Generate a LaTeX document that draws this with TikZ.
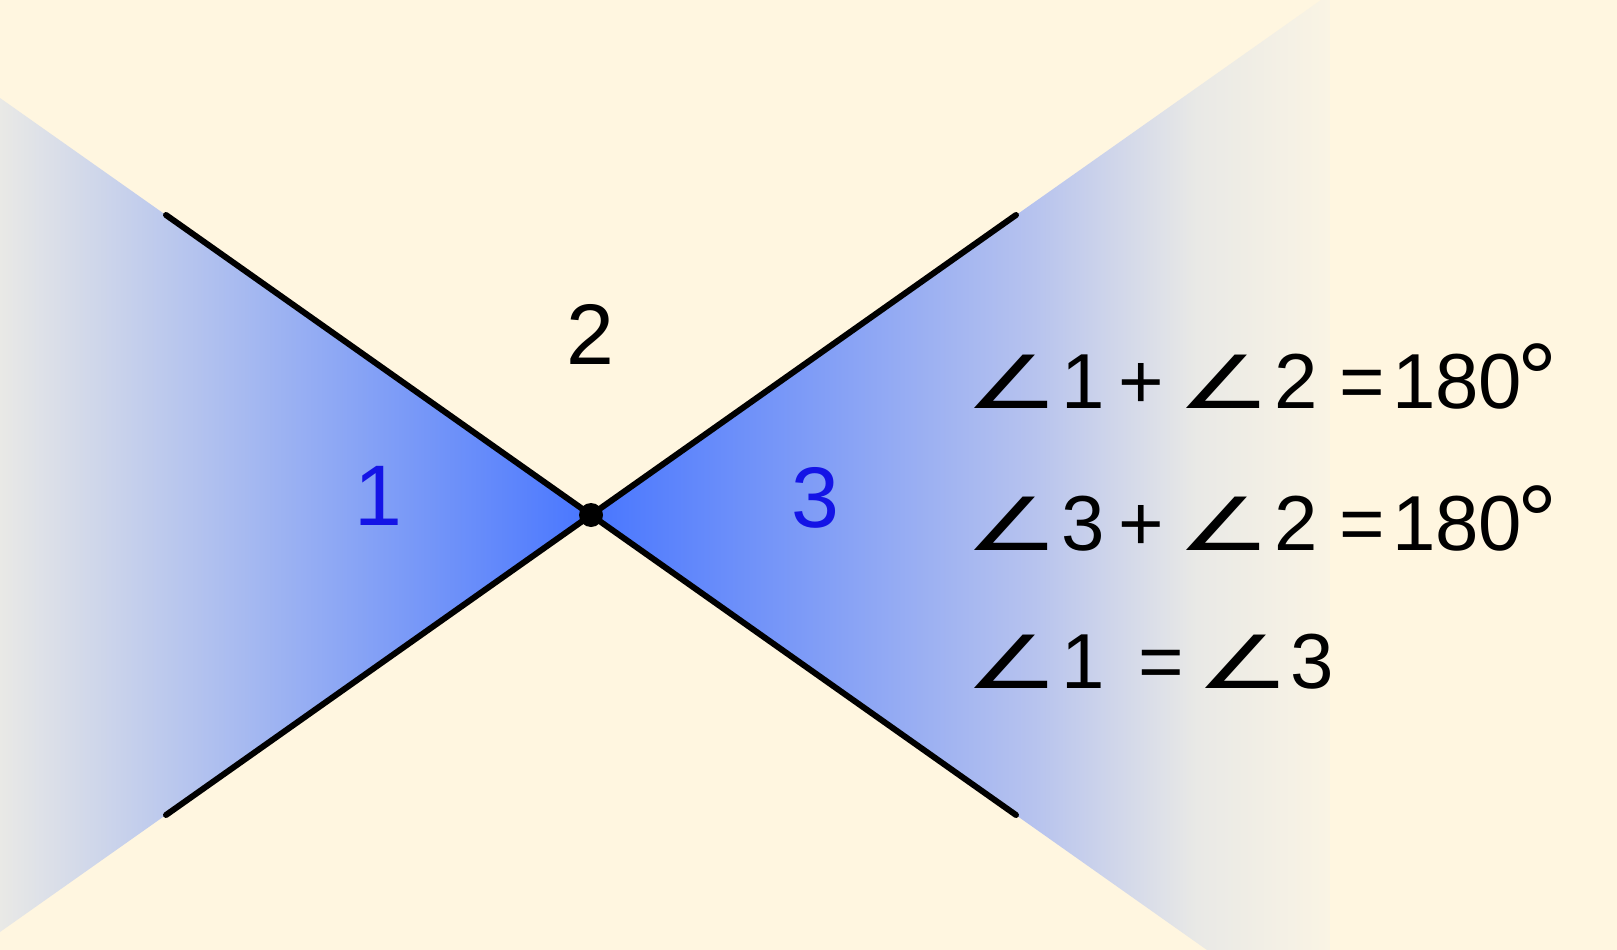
\documentclass[tikz,border=0pt]{standalone}
\usepackage{fontspec}
\setmainfont{Liberation Sans}
\newfontfamily\symfont{DejaVu Sans}
\newcommand{\angsym}{\scalebox{1.34}[0.94]{\symfont ∠}}
\newcommand{\degsym}{{\fontsize{100}{100}\selectfont\raisebox{-5.6pt}{°}}}
\definecolor{paper}{RGB}{255,246,224}
\definecolor{wedgeblue}{RGB}{72,118,255}
\definecolor{wedgemid}{RGB}{183,195,238}
\definecolor{wedgegray}{RGB}{233,233,230}
\definecolor{wedgefade}{RGB}{250,244,228}
\definecolor{labelblue}{RGB}{20,20,230}
\pgfdeclarehorizontalshading{rightfade}{100bp}{color(0bp)=(wedgeblue); color(25bp)=(wedgeblue); color(55bp)=(wedgemid); color(66bp)=(wedgegray); color(75bp)=(wedgefade); color(100bp)=(wedgefade)}

\begin{document}
\begin{tikzpicture}[x=1pt, y=-1pt,
  bignum/.style={font=\fontsize{86}{100}\selectfont, inner sep=0pt, anchor=base},
  eqline/.style={font=\fontsize{78}{90}\selectfont, inner sep=0pt, anchor=base west}]
\fill[paper] (0,0) rectangle (1617,950);
\useasboundingbox (0,0) rectangle (1617,950);
% vertex and ends of the two lines
\coordinate (O) at (591,515);
\coordinate (ul) at (166,215);
\coordinate (ll) at (166,815);
\coordinate (ur) at (1016,215);
\coordinate (lr) at (1016,815);
% shaded vertical angles
\shade[left color=wedgegray, right color=wedgeblue] (O) -- (0,98) -- (0,932) -- cycle;
\shade[shading=rightfade] (O) -- (1321,0) -- (1330,0) -- (1330,950) -- (1207,950) -- cycle;
\draw[line width=6pt, line cap=round] (ul) -- (lr);
\draw[line width=6pt, line cap=round] (ll) -- (ur);
\fill (O) circle (12);
% angle labels
\node[bignum] (two) at (590,364) {2};
\node[bignum, labelblue] (one) at (378,525) {1};
\node[bignum, labelblue] (three) at (815,527) {3};
% equations
\node[eqline] (eqa) at (965,408) {\angsym\hspace{2.7pt}1\hspace{13.6pt}+\hspace{13.3pt}\angsym\hspace{3.1pt}2\hspace{21.6pt}=\hspace{7.4pt}180\hspace{-5pt}\degsym};
\node[eqline] (eqb) at (965,550) {\angsym\hspace{2.7pt}3\hspace{13.6pt}+\hspace{13.3pt}\angsym\hspace{3.1pt}2\hspace{21.6pt}=\hspace{7.4pt}180\hspace{-5pt}\degsym};
\node[eqline] (eqc) at (965,688) {\angsym\hspace{2.7pt}1\hspace{33.6pt}=\hspace{12.3pt}\angsym\hspace{0.1pt}3};
\end{tikzpicture}
\end{document}
